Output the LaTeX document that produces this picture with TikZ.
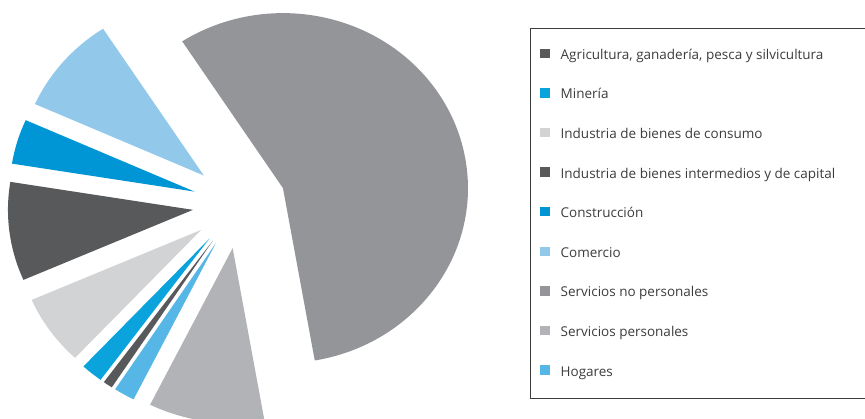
\documentclass[tikz,border=0pt]{standalone}
\usepackage{fontspec}
\setmainfont{Open Sans}
\usetikzlibrary{positioning,calc}
\definecolor{agro}{HTML}{58595B}
\definecolor{mineria}{HTML}{0AA3DC}
\definecolor{consumo}{HTML}{D1D3D4}
\definecolor{capital}{HTML}{58595B}
\definecolor{constru}{HTML}{0096D6}
\definecolor{comercio}{HTML}{92C9EB}
\definecolor{snopers}{HTML}{939598}
\definecolor{spers}{HTML}{B1B3B6}
\definecolor{hogares}{HTML}{56B7E6}
\definecolor{legtext}{HTML}{3C3C3C}
\begin{document}
\begin{tikzpicture}[x=1pt, y=1pt,
	swatch/.style={draw=none, minimum size=9.5pt, inner sep=0pt},
	entry/.style={text=legtext, font=\fontsize{13.5}{15}\selectfont, inner sep=0pt, anchor=base west},
	legbox/.style={draw=legtext, line width=1pt} ]
	\useasboundingbox (0,0) rectangle (865,419);
	\coordinate (O) at (239.4,214.7);
	% exploded slices
	\begin{scope}[shift={(O)}, xscale=185, yscale=175]
		\foreach \a/\b/\c in {-80.1/123/snopers, 123/155.9/comercio, 155.9/170.8/constru,
			170.8/203.6/capital, 203.6/227/consumo, 227/233.9/mineria, 233.9/236.9/agro,
			236.9/243.5/hogares, 243.5/279.9/spers}
			\fill[\c] ({(\a+\b)/2}:0.253) -- +(\a:1) arc[start angle=\a, end angle=\b, radius=1] -- cycle;
	\end{scope}
	% legend
	\draw[legbox] (530.7,20.3) rectangle (880,390.7);
	\foreach \c/\t [count=\i] in {agro/{Agricultura, ganadería, pesca y silvicultura}, mineria/Minería,
		consumo/Industria de bienes de consumo, capital/Industria de bienes intermedios y de capital,
		constru/Construcción, comercio/Comercio, snopers/Servicios no personales,
		spers/Servicios personales, hogares/Hogares}
	{
		\node[swatch, fill=\c] (sw\i) at (545, 365.7-39.6*\i+39.6) {};
		\node[entry] (lb\i) at ([xshift=10.5pt, yshift=-1pt]sw\i.south east) {\t};
	}
\end{tikzpicture}
\end{document}
